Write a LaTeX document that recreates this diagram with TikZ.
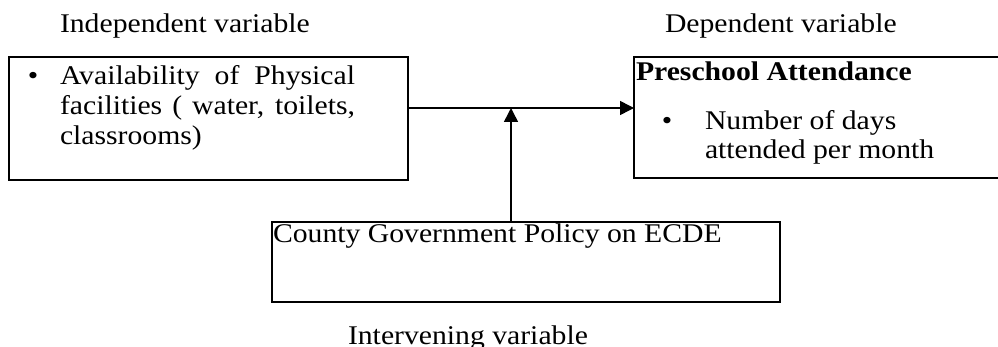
\documentclass[tikz,border=0pt]{standalone}
\usepackage{fontspec}
\setmainfont{Liberation Serif}[FakeStretch=1.1]
\usetikzlibrary{arrows.meta}
\begin{document}
\begin{tikzpicture}[x=1pt,y=-1pt,
  box/.style={draw, line width=1.5pt, inner sep=0pt, outer sep=0pt, anchor=north west},
  txt/.style={inner sep=0pt, outer sep=0pt, anchor=base west, font=\fontsize{27}{30}\selectfont},
  bul/.style={inner sep=0pt, outer sep=0pt, anchor=base, font=\fontsize{27}{30}\selectfont},
  arr/.style={line width=1.5pt, -{Triangle[length=14pt,width=14pt]}}]
\useasboundingbox (0,0) rectangle (998,347);
\clip (0,0) rectangle (998,347);
% boxes
\node[box, minimum width=399pt, minimum height=123pt] (iv) at (9,57) {};
\node[box, minimum width=380pt, minimum height=121pt] (dv) at (634,57) {};
\node[box, minimum width=508pt, minimum height=80pt] (pol) at (272,222) {};
% titles
\node[txt] (tiv) at (60,33) {Independent variable};
\node[txt] (tdv) at (665,33) {Dependent variable};
\node[txt] (tint) at (348,344) {Intervening variable};
% left box text
\node[bul] (b1) at (33,85) {•};
\node[txt] (l1) at (60,85) {\makebox[295pt][s]{Availability of Physical}};
\node[txt] (l2) at (60,115) {\makebox[295pt][s]{facilities ( water, toilets,}};
\node[txt] (l3) at (60,145) {classrooms)};
% right box text
\node[txt] (r0) at (636,81) {\bfseries Preschool Attendance};
\node[bul] (b2) at (667,130) {•};
\node[txt] (r1) at (705,130) {Number of days};
\node[txt] (r2) at (705,159) {attended per month};
% policy text
\node[txt] (p1) at (273,243) {County Government Policy on ECDE};
% connectors
\coordinate (j) at (511,108);
\draw[arr] (iv.east |- j) -- (dv.west |- j);
\draw[arr] (pol.north -| j) -- (j);
\end{tikzpicture}
\end{document}
